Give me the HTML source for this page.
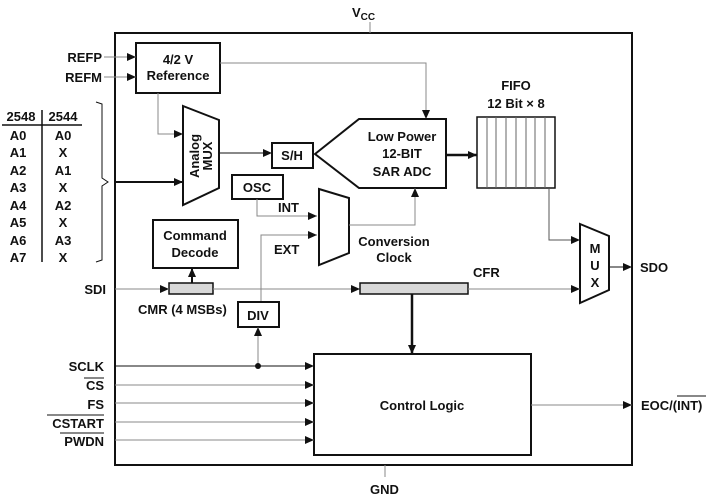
<!DOCTYPE html>
<html><head><style>
body{margin:0;background:#fff}
svg{display:block}
text{font-family:"Liberation Sans",sans-serif;font-weight:bold;font-size:13px;fill:#111}
</style></head><body>
<svg width="708" height="495" viewBox="0 0 708 495" xmlns="http://www.w3.org/2000/svg">
<defs>
<marker id="a" markerWidth="9" markerHeight="8" refX="9" refY="4" orient="auto" markerUnits="userSpaceOnUse">
<path d="M0,0 L9,4 L0,8 Z" fill="#111"/></marker>
</defs>
<g fill="none" stroke="#111">
<!-- main box -->
<rect x="115" y="33" width="517" height="432" stroke-width="2"/>
<line x1="370" y1="22" x2="370" y2="33" stroke="#888"/>
<line x1="385" y1="465" x2="385" y2="477" stroke="#888"/>
<!-- reference -->
<rect x="136" y="43" width="84" height="50" stroke-width="2"/>
<line x1="104" y1="57" x2="136" y2="57" stroke="#888" marker-end="url(#a)"/>
<line x1="104" y1="77" x2="136" y2="77" stroke="#888" marker-end="url(#a)"/>
<polyline points="220,63 426,63 426,119" stroke="#888" marker-end="url(#a)"/>
<polyline points="158,93 158,134 183,134" stroke="#888" marker-end="url(#a)"/>
<!-- table -->
<line x1="2" y1="125" x2="82" y2="125" stroke-width="1.5"/>
<line x1="42" y1="110" x2="42" y2="262" stroke-width="1.5"/>
<polyline points="96,102 102,104 102,178 108,182 102,186 102,260 96,262" stroke-width="1"/>
<line x1="115" y1="182" x2="183" y2="182" stroke-width="2" marker-end="url(#a)"/>
<!-- analog mux -->
<polygon points="183,106 219,120 219,188 183,205" stroke-width="2"/>
<line x1="219" y1="153" x2="272" y2="153" marker-end="url(#a)"/>
<rect x="272" y="143" width="41" height="25" stroke-width="2"/>
<polygon points="315,154 359,119 446,119 446,188 359,188" stroke-width="2"/>
<line x1="446" y1="155" x2="477" y2="155" stroke-width="2.5" marker-end="url(#a)"/>
<!-- FIFO -->
<rect x="477" y="117" width="78" height="71" stroke-width="1.5"/>
<g stroke="#666"><line x1="487" y1="117" x2="487" y2="188"/><line x1="496" y1="117" x2="496" y2="188"/><line x1="506" y1="117" x2="506" y2="188"/><line x1="516" y1="117" x2="516" y2="188"/><line x1="526" y1="117" x2="526" y2="188"/><line x1="535" y1="117" x2="535" y2="188"/><line x1="545" y1="117" x2="545" y2="188"/></g>
<polyline points="549,188 549,240 580,240" stroke="#555" marker-end="url(#a)"/>
<!-- out mux -->
<polygon points="580,224 609,236 609,290 580,303" stroke-width="2"/>
<line x1="609" y1="267" x2="632" y2="267" marker-end="url(#a)"/>
<!-- OSC / conv clock -->
<rect x="232" y="175" width="51" height="24" stroke-width="2"/>
<polyline points="257,199 257,216 317,216" stroke="#888" marker-end="url(#a)"/>
<polyline points="261,302 261,235 317,235" stroke="#888" marker-end="url(#a)"/>
<polygon points="319,189 349,198 349,253 319,265" stroke-width="2"/>
<polyline points="349,225 415,225 415,188" stroke="#888" marker-end="url(#a)"/>
<!-- command decode -->
<rect x="153" y="220" width="85" height="48" stroke-width="2"/>
<rect x="169" y="283" width="44" height="11" fill="#d8d8d8" stroke-width="1.5"/>
<line x1="192" y1="283" x2="192" y2="268" stroke-width="2" marker-end="url(#a)"/>
<line x1="115" y1="289" x2="169" y2="289" stroke="#888" marker-end="url(#a)"/>
<line x1="213" y1="289" x2="360" y2="289" stroke="#888" marker-end="url(#a)"/>
<rect x="360" y="283" width="108" height="11" fill="#d8d8d8" stroke-width="1.5"/>
<line x1="468" y1="289" x2="580" y2="289" stroke="#888" marker-end="url(#a)"/>
<rect x="238" y="302" width="41" height="25" stroke-width="2"/>
<line x1="258" y1="366" x2="258" y2="327" stroke="#888" marker-end="url(#a)"/>
<circle cx="258" cy="366" r="3" fill="#111" stroke="none"/>
<line x1="412" y1="294" x2="412" y2="354" stroke-width="2.5" marker-end="url(#a)"/>
<!-- control logic -->
<rect x="314" y="354" width="217" height="101" stroke-width="2"/>
<line x1="115" y1="366" x2="314" y2="366" marker-end="url(#a)"/>
<line x1="115" y1="385" x2="314" y2="385" stroke="#888" marker-end="url(#a)"/>
<line x1="115" y1="403" x2="314" y2="403" stroke="#888" marker-end="url(#a)"/>
<line x1="115" y1="422" x2="314" y2="422" stroke="#888" marker-end="url(#a)"/>
<line x1="115" y1="440" x2="314" y2="440" stroke="#888" marker-end="url(#a)"/>
<line x1="531" y1="405" x2="632" y2="405" stroke="#888" marker-end="url(#a)"/>
<!-- overbars -->
<line x1="84" y1="378" x2="104" y2="378"/>
<line x1="47" y1="415" x2="104" y2="415"/>
<line x1="60" y1="433" x2="104" y2="433"/>
<line x1="677" y1="396" x2="706" y2="396"/>
</g>
<text x="352" y="17" font-size="14">V<tspan font-size="10" dy="3">CC</tspan></text>
<text x="370" y="494">GND</text>
<text x="178" y="64" text-anchor="middle">4/2 V</text>
<text x="178" y="80" text-anchor="middle">Reference</text>
<text x="102" y="62" text-anchor="end">REFP</text>
<text x="102" y="82" text-anchor="end">REFM</text>
<text x="21" y="121" text-anchor="middle">2548</text>
<text x="63" y="121" text-anchor="middle">2544</text>
<g text-anchor="middle">
<text x="18" y="140">A0</text><text x="63" y="140">A0</text>
<text x="18" y="157">A1</text><text x="63" y="157">X</text>
<text x="18" y="175">A2</text><text x="63" y="175">A1</text>
<text x="18" y="192">A3</text><text x="63" y="192">X</text>
<text x="18" y="210">A4</text><text x="63" y="210">A2</text>
<text x="18" y="227">A5</text><text x="63" y="227">X</text>
<text x="18" y="245">A6</text><text x="63" y="245">A3</text>
<text x="18" y="262">A7</text><text x="63" y="262">X</text>
</g>
<text transform="translate(201,156) rotate(-90)" text-anchor="middle" y="-2">Analog</text>
<text transform="translate(201,156) rotate(-90)" text-anchor="middle" y="11">MUX</text>
<text x="292" y="160" text-anchor="middle">S/H</text>
<text x="402" y="141" text-anchor="middle">Low Power</text>
<text x="402" y="158" text-anchor="middle">12-BIT</text>
<text x="402" y="176" text-anchor="middle">SAR ADC</text>
<text x="516" y="90" text-anchor="middle">FIFO</text>
<text x="516" y="108" text-anchor="middle">12 Bit × 8</text>
<text x="595" y="253" text-anchor="middle">M</text>
<text x="595" y="270" text-anchor="middle">U</text>
<text x="595" y="287" text-anchor="middle">X</text>
<text x="640" y="272">SDO</text>
<text x="257" y="192" text-anchor="middle">OSC</text>
<text x="278" y="212">INT</text>
<text x="274" y="254">EXT</text>
<text x="394" y="246" text-anchor="middle">Conversion</text>
<text x="394" y="262" text-anchor="middle">Clock</text>
<text x="195" y="240" text-anchor="middle">Command</text>
<text x="195" y="257" text-anchor="middle">Decode</text>
<text x="106" y="294" text-anchor="end">SDI</text>
<text x="138" y="314">CMR (4 MSBs)</text>
<text x="258" y="320" text-anchor="middle">DIV</text>
<text x="473" y="277">CFR</text>
<text x="422" y="410" text-anchor="middle">Control Logic</text>
<text x="104" y="371" text-anchor="end">SCLK</text>
<text x="104" y="390" text-anchor="end">CS</text>
<text x="104" y="409" text-anchor="end">FS</text>
<text x="104" y="428" text-anchor="end">CSTART</text>
<text x="104" y="446" text-anchor="end">PWDN</text>
<text x="641" y="410">EOC/(INT)</text>
</svg>
</body></html>
